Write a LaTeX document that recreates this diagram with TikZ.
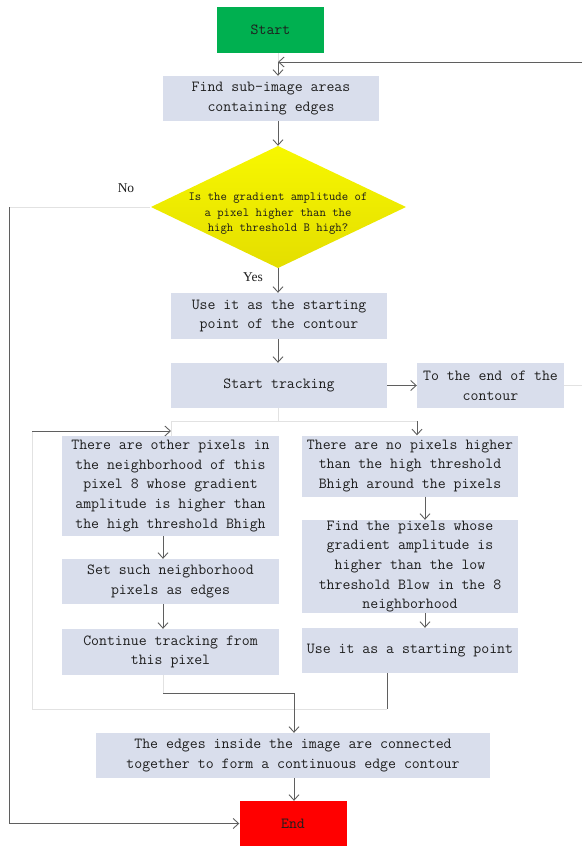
\documentclass[tikz,border=0pt]{standalone}
\usepackage{fontspec}
\usetikzlibrary{arrows.meta,calc}
\newfontfamily\lblfont{Liberation Serif}
\definecolor{boxfill}{RGB}{217,222,236}
\definecolor{startgreen}{RGB}{0,176,80}
\definecolor{endred}{RGB}{255,0,0}
\definecolor{linedark}{RGB}{95,95,95}
\definecolor{linelight}{RGB}{226,226,226}
\definecolor{txt}{RGB}{30,30,30}
\definecolor{diatop}{RGB}{247,247,0}
\definecolor{diabot}{RGB}{228,222,0}
\begin{document}
\begin{tikzpicture}[x=1pt,y=-1pt,
  base/.style={rectangle, inner sep=0pt, align=center, text=txt, font=\ttfamily\fontsize{15.4}{19.7}\selectfont},
  procbox/.style={base, fill=boxfill},
  conn/.style={draw=linedark, line width=0.9pt},
  arr/.style={conn, -{Straight Barb[length=5.5pt,width=10pt]}},
  ghost/.style={draw=linelight, line width=0.8pt},
  lbl/.style={inner sep=0pt, text=txt, font=\lblfont\fontsize{13.5}{16}\selectfont}
]
\useasboundingbox (0,0) rectangle (582,846);

% diamond shape
\shade[top color=diatop, bottom color=diabot] (278,146) -- (406,207) -- (278,268) -- (151,207) -- cycle;

% nodes
\node[base, fill=startgreen, minimum width=107, minimum height=46] (start) at (270.5,30) {Start};
\node[procbox, minimum width=216, minimum height=45] (find) at (271,98.5) {Find sub-image areas\\containing edges};
\node[rectangle, inner sep=0pt, minimum width=255, minimum height=122] (dia) at (278,207) {};
\node[base, font=\ttfamily\fontsize{12.4}{15.5}\selectfont, text=black!90] (diatext) at (278,214) {Is the gradient amplitude of\\a pixel higher than the\\high threshold B high?};
\node[procbox, minimum width=216, minimum height=46] (use1) at (279,316) {Use it as the starting\\point of the contour};
\node[procbox, minimum width=216, minimum height=45] (track) at (279,385.5) {Start tracking};
\node[procbox, minimum width=147, minimum height=45] (toend) at (490.5,385.5) {To the end of the\\contour};
\node[procbox, minimum width=217, minimum height=100] (left1) at (170.5,486) {There are other pixels in\\the neighborhood of this\\pixel 8 whose gradient\\amplitude is higher than\\the high threshold Bhigh};
\node[procbox, minimum width=217, minimum height=45] (left2) at (170.5,581.5) {Set such neighborhood\\pixels as edges};
\node[procbox, minimum width=217, minimum height=46] (left3) at (170.5,652) {Continue tracking from\\this pixel};
\node[procbox, minimum width=216, minimum height=61] (right1) at (410,466) {There are no pixels higher\\than the high threshold\\Bhigh around the pixels};
\node[procbox, minimum width=216, minimum height=93] (right2) at (410,566.5) {Find the pixels whose\\gradient amplitude is\\higher than the low\\threshold Blow in the 8\\neighborhood};
\node[procbox, minimum width=216, minimum height=45] (right3) at (410,650.5) {Use it as a starting point};
\node[procbox, minimum width=394, minimum height=45] (final) at (293,755.5) {The edges inside the image are connected\\together to form a continuous edge contour};
\node[base, fill=endred, minimum width=107, minimum height=45] (end) at (293,823.5) {End};

\node[lbl] (no) at (126,188) {No};
\node[lbl] (yes) at (253,277) {Yes};

% coordinates
\coordinate (j1) at (278,62);
\coordinate (r1) at (582,62);
\coordinate (n1) at (9,207);
\coordinate (r2) at (582,385.5);
\coordinate (t1) at (278,421);
\coordinate (t2) at (171,421);
\coordinate (t3) at (417,421);
\coordinate (l1) at (32,431);
\coordinate (l2) at (32,709);
\coordinate (l3) at (387,709);
\coordinate (lc) at (163,600);
\coordinate (rc) at (425,600);
\coordinate (m1) at (163,693);
\coordinate (m2) at (294,693);

% light connectors
\draw[ghost] (start.south -| j1) -- (j1);
\draw[ghost] (dia.west) -- (n1);
\draw[ghost] (toend.east) -- (r2);
\draw[ghost] (track.south -| t1) -- (t1);
\draw[ghost] (t2) -- (t3);
\draw[ghost] (t2) -- (left1.north -| t2);
\draw[ghost] (l1) -- (l2) -- (l3);
\draw[ghost] (left3.south -| lc) -- (m1);

% dark connectors
\draw[arr] (r1) -- (j1);
\draw[arr] (j1) -- (find.north -| j1);
\draw[arr] (find.south -| j1) -- (dia.north);
\draw[arr] (n1) |- (end.west);
\draw[arr] (dia.south) -- (use1.north -| dia.south);
\draw[arr] (use1.south -| dia) -- (track.north -| dia);
\draw[arr] (track.east) -- (toend.west);
\draw[arr] (t3) -- (right1.north -| t3);
\draw[arr] (l1) -- (l1 -| t2);
\draw[arr] (left1.south -| lc) -- (left2.north -| lc);
\draw[arr] (left2.south -| lc) -- (left3.north -| lc);
\draw[arr] (m1) -- (m2) -- (final.north -| m2);
\draw[conn] (right3.south -| l3) -- (l3);
\draw[arr] (right1.south -| rc) -- (right2.north -| rc);
\draw[arr] (right2.south -| rc) -- (right3.north -| rc);
\draw[arr] (final.south -| m2) -- (end.north -| m2);
\end{tikzpicture}
\end{document}
